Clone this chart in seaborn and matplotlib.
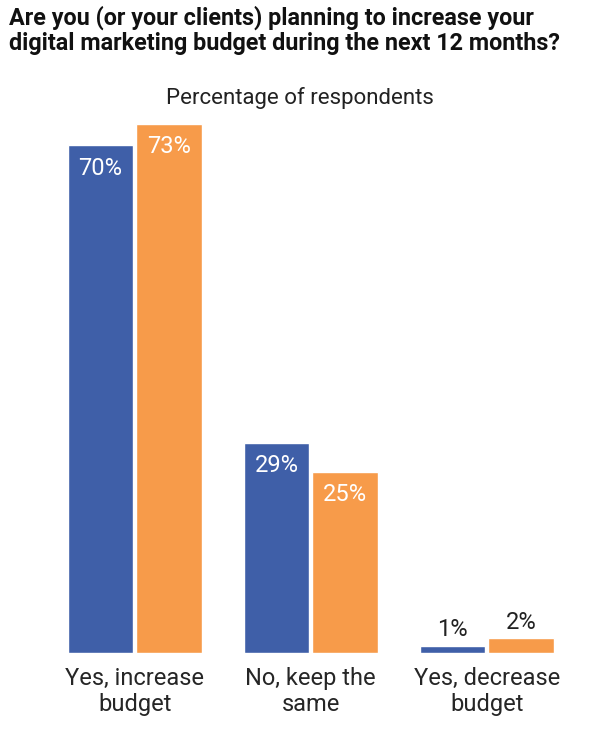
import matplotlib
matplotlib.use("Agg")
import matplotlib.pyplot as plt
import seaborn as sns
import pandas as pd

categories = ["Yes, increase\nbudget", "No, keep the\nsame", "Yes, decrease\nbudget"]
series = ["A", "B"]
values_a = [70, 29, 1]
values_b = [73, 25, 2]

df = pd.DataFrame({
    "cat": categories * 2,
    "series": ["A"] * 3 + ["B"] * 3,
    "value": values_a + values_b,
})

sns.set_theme(style="white")
plt.rcParams['font.family'] = ['Liberation Sans Narrow', 'Roboto', 'DejaVu Sans']

fig = plt.figure(figsize=(6.0, 7.39), dpi=100)
ax = fig.add_axes([0.078, 0.1164, 0.88, 580 / 739])
sns.barplot(data=df, x="cat", y="value", hue="series", order=categories,
            palette=["#3F5FA8", "#F79B4A"], width=0.78, gap=0.04,
            saturation=1, legend=False, ax=ax)
ax.set_ylim(0, 80)
ax.set_xlim(-0.5, 2.5)
ax.set_xlabel("")
ax.set_ylabel("")
ax.set_yticks([])
ax.tick_params(axis="x", length=0, labelsize=17, pad=10)
for s in ax.spines.values():
    s.set_visible(False)

for cont in ax.containers:
    for bar in cont:
        h = bar.get_height()
        x = bar.get_x() + bar.get_width() / 2
        if h > 10:
            ax.text(x, h - 1.6, f"{h:.0f}%", ha="center", va="top",
                    color="white", fontsize=17)
        else:
            ax.text(x, h + 0.6, f"{h:.0f}%", ha="center", va="bottom",
                    color="#222222", fontsize=17)

fig.text(0.015, 0.993, "Are you (or your clients) planning to increase your\n"
         "digital marketing budget during the next 12 months?",
         ha="left", va="top", fontsize=16.8, fontweight="bold",
         color="#111111", linespacing=1.15)
fig.text(0.5, 0.868, "Percentage of respondents", ha="center", va="center",
         fontsize=16, color="#222222")

fig.savefig("out.png", dpi=100)
